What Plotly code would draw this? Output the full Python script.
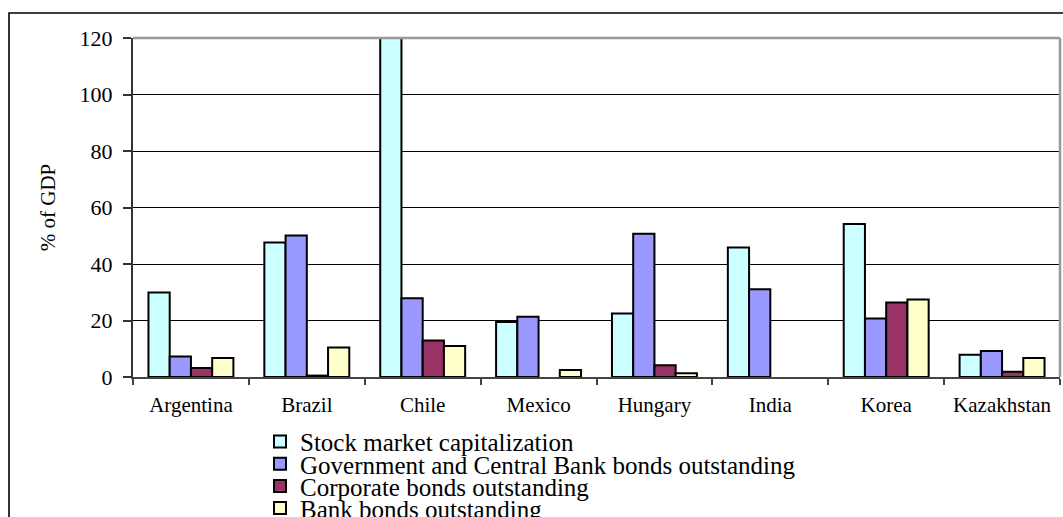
import plotly.graph_objects as go

categories = ["Argentina", "Brazil", "Chile", "Mexico", "Hungary", "India", "Korea", "Kazakhstan"]
stock_market = [29.9, 47.6, 120, 19.5, 22.5, 45.8, 54.2, 7.9]
government_bonds = [7.3, 50.1, 27.9, 21.3, 50.7, 31.1, 20.7, 9.2]
corporate_bonds = [3.2, 0.5, 12.9, None, 4.2, None, 26.4, 1.9]
bank_bonds = [6.7, 10.4, 11.0, 2.5, 1.3, None, 27.4, 6.7]

series_names = [
    "Stock market capitalization",
    "Government and Central Bank bonds outstanding",
    "Corporate bonds outstanding",
    "Bank bonds outstanding",
]
series_values = [stock_market, government_bonds, corporate_bonds, bank_bonds]
series_colors = ["#CCFFFF", "#9999FF", "#993366", "#FFFFCC"]
legend_ids = ["legend", "legend2", "legend3", "legend4"]
legend_y = [-0.191, -0.257, -0.322, -0.387]

FONT = "Liberation Serif"

fig = go.Figure()
for name, vals, col, lid in zip(series_names, series_values, series_colors, legend_ids):
    fig.add_trace(go.Bar(
        x=categories, y=vals, name=name, legend=lid,
        marker=dict(color=col, line=dict(color="#000000", width=2)),
    ))

layout_legends = {}
for lid, ly in zip(legend_ids, legend_y):
    layout_legends[lid] = dict(
        x=0.137, xanchor="left", y=ly, yanchor="middle",
        font=dict(family=FONT, size=25, color="#000000"),
        bgcolor="rgba(0,0,0,0)", borderwidth=0, itemwidth=30,
    )

fig.update_layout(
    width=1063, height=517,
    margin=dict(l=133, r=3, t=38, b=140, autoexpand=False),
    paper_bgcolor="white", plot_bgcolor="white",
    barmode="group", bargap=0.267, bargroupgap=0,
    showlegend=True,
    font=dict(family=FONT, color="#000000"),
    **layout_legends,
)
fig.update_xaxes(
    type="category",
    showline=True, linecolor="#444444", linewidth=2,
    ticks="outside", tickson="boundaries", ticklen=6, tickcolor="#444444", tickwidth=1.5,
    tickfont=dict(family=FONT, size=21, color="#000000"),
    ticklabelstandoff=8,
    showgrid=False, zeroline=False,
)
fig.update_yaxes(
    range=[0, 120], dtick=20, tick0=0,
    showline=True, linecolor="#333333", linewidth=2,
    ticks="outside", ticklen=8, tickcolor="#333333", tickwidth=1.5,
    tickfont=dict(family=FONT, size=22, color="#000000"),
    ticklabelstandoff=6,
    showgrid=True, gridcolor="#000000", gridwidth=1.2,
    zeroline=False,
    title=dict(text="% of GDP", font=dict(family=FONT, size=21, color="#000000"), standoff=18),
)
# plot-area top and right edges (gray)
fig.add_shape(type="line", xref="paper", yref="paper", x0=0, x1=1, y0=1, y1=1,
              line=dict(color="#999999", width=2.5), layer="above")
fig.add_shape(type="line", xref="paper", yref="paper", x0=1, x1=1, y0=0, y1=1,
              line=dict(color="#999999", width=2.5), layer="above")
# outer chart border
fig.add_shape(type="rect", xref="paper", yref="paper",
              x0=(9 - 133) / 927, x1=1.05, y0=-0.6, y1=(377 - 13) / 339,
              line=dict(color="#000000", width=1.6), fillcolor="rgba(0,0,0,0)", layer="above")

fig.write_html("out.html")
